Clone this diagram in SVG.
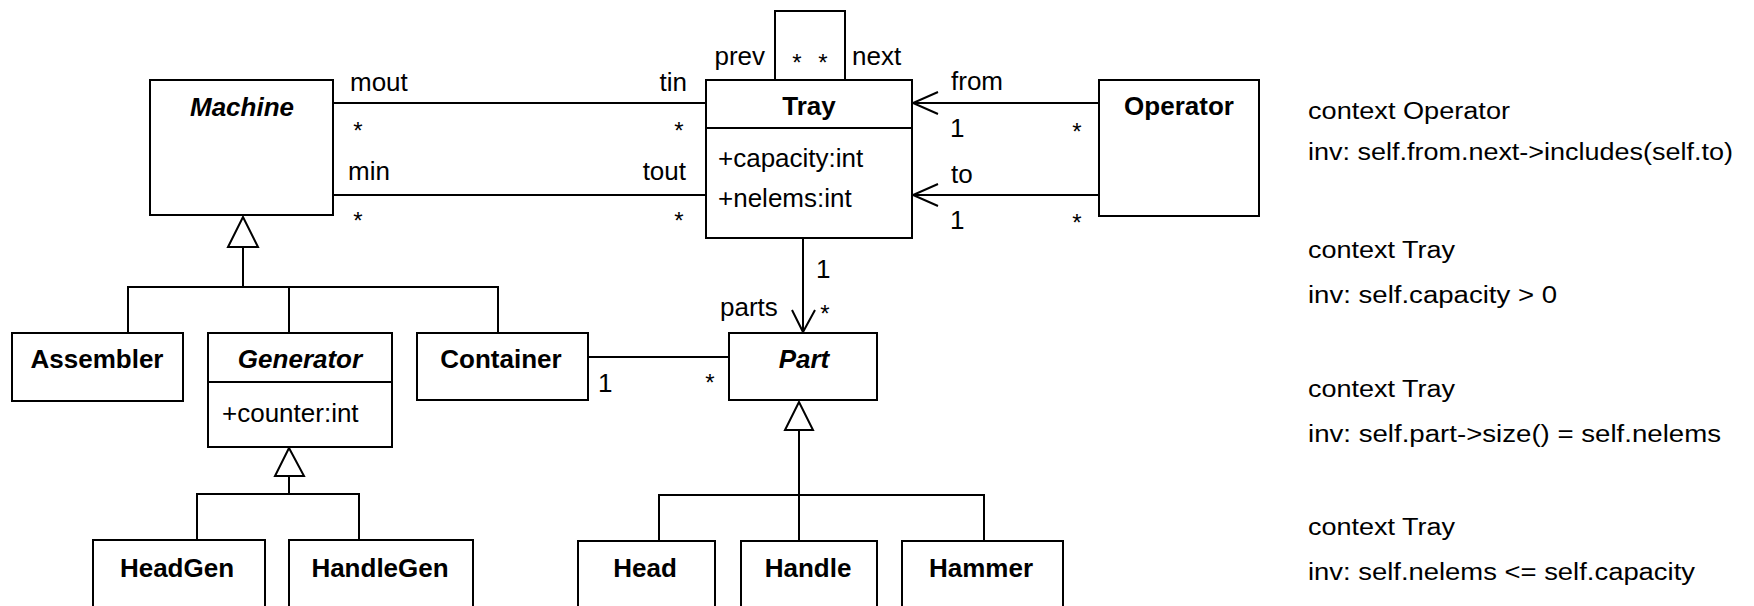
<svg xmlns="http://www.w3.org/2000/svg" width="1754" height="606" viewBox="0 0 1754 606">
<style>
.box{fill:#fff;stroke:#000;stroke-width:2}
.ln{fill:none;stroke:#000;stroke-width:2}
.tri{fill:#fff;stroke:#000;stroke-width:2;stroke-linejoin:miter}
.cn{font-family:"Liberation Sans",Arial,sans-serif;font-size:26px;font-weight:bold;text-anchor:middle;fill:#000}
.ab{font-style:italic}
.at{font-family:"Liberation Sans",Arial,sans-serif;font-size:26px;fill:#000}
.lb{font-family:"Liberation Sans",Arial,sans-serif;font-size:26px;fill:#000}
.st{font-family:"Liberation Sans",Arial,sans-serif;font-size:24px;fill:#000;text-anchor:middle}
.ocl{font-family:"Liberation Sans",Arial,sans-serif;font-size:23px;fill:#000}
</style>
<rect width="1754" height="606" fill="#fff"/>

<g id="connectors">
  <!-- Machine - Tray -->
  <line class="ln" x1="333" y1="103" x2="706" y2="103"/>
  <line class="ln" x1="333" y1="195" x2="706" y2="195"/>
  <!-- Tray self association -->
  <polyline class="ln" points="775,80 775,11 845,11 845,80"/>
  <!-- Operator - Tray -->
  <line class="ln" x1="1099" y1="103" x2="913" y2="103"/>
  <polyline class="ln" points="938,92 913,103 938,114"/>
  <line class="ln" x1="1099" y1="195" x2="913" y2="195"/>
  <polyline class="ln" points="938,184 913,195 938,206"/>
  <!-- Tray - Part -->
  <line class="ln" x1="803" y1="238" x2="803" y2="332"/>
  <polyline class="ln" points="792,310 803,332 815,310"/>
  <!-- Container - Part -->
  <line class="ln" x1="588" y1="357" x2="729" y2="357"/>
  <!-- Machine generalization -->
  <polygon class="tri" points="243,217 228,247 258,247"/>
  <polyline class="ln" points="243,247 243,287"/>
  <polyline class="ln" points="128,333 128,287 498,287 498,333"/>
  <line class="ln" x1="289" y1="287" x2="289" y2="333"/>
  <!-- Generator generalization -->
  <polygon class="tri" points="289,448 275,476 304,476"/>
  <line class="ln" x1="289" y1="476" x2="289" y2="494"/>
  <polyline class="ln" points="197,540 197,494 359,494 359,540"/>
  <!-- Part generalization -->
  <polygon class="tri" points="799,402 785,430 813,430"/>
  <line class="ln" x1="799" y1="430" x2="799" y2="541"/>
  <polyline class="ln" points="659,541 659,495 984,495 984,541"/>

  <!-- role names and multiplicities -->
  <text class="lb" x="350" y="91">mout</text>
  <text class="lb" x="687" y="91" text-anchor="end">tin</text>
  <text class="st" x="358" y="139">*</text>
  <text class="st" x="679" y="139">*</text>
  <text class="lb" x="348" y="180">min</text>
  <text class="lb" x="686" y="180" text-anchor="end">tout</text>
  <text class="st" x="358" y="229">*</text>
  <text class="st" x="679" y="229">*</text>
  <text class="lb" x="765" y="65" text-anchor="end">prev</text>
  <text class="st" x="797" y="71">*</text>
  <text class="st" x="823" y="71">*</text>
  <text class="lb" x="852" y="65">next</text>
  <text class="lb" x="951" y="90">from</text>
  <text class="lb" x="950" y="137">1</text>
  <text class="st" x="1077" y="140">*</text>
  <text class="lb" x="951" y="183">to</text>
  <text class="lb" x="950" y="229">1</text>
  <text class="st" x="1077" y="231">*</text>
  <text class="lb" x="816" y="278">1</text>
  <text class="lb" x="720" y="316">parts</text>
  <text class="st" x="825" y="322">*</text>
  <text class="lb" x="598" y="392">1</text>
  <text class="st" x="710" y="391">*</text>
</g>

<g id="Machine">
  <rect class="box" x="150" y="80" width="183" height="135"/>
  <text class="cn ab" x="242" y="116">Machine</text>
</g>
<g id="Tray">
  <rect class="box" x="706" y="80" width="206" height="158"/>
  <line class="ln" x1="706" y1="128" x2="912" y2="128"/>
  <text class="cn" x="809" y="115">Tray</text>
  <text class="at" x="718" y="167">+capacity:int</text>
  <text class="at" x="718" y="207">+nelems:int</text>
</g>
<g id="Operator">
  <rect class="box" x="1099" y="80" width="160" height="136"/>
  <text class="cn" x="1179" y="115">Operator</text>
</g>
<g id="Assembler">
  <rect class="box" x="12" y="333" width="171" height="68"/>
  <text class="cn" x="97" y="368">Assembler</text>
</g>
<g id="Generator">
  <rect class="box" x="208" y="333" width="184" height="114"/>
  <line class="ln" x1="208" y1="382" x2="392" y2="382"/>
  <text class="cn ab" x="300" y="368" font-weight="normal">Generator</text>
  <text class="at" x="222" y="422">+counter:int</text>
</g>
<g id="Container">
  <rect class="box" x="417" y="333" width="171" height="67"/>
  <text class="cn" x="501" y="368">Container</text>
</g>
<g id="Part">
  <rect class="box" x="729" y="333" width="148" height="67"/>
  <text class="cn ab" x="804" y="368">Part</text>
</g>
<g id="HeadGen">
  <rect class="box" x="93" y="540" width="172" height="80"/>
  <text class="cn" x="177" y="577">HeadGen</text>
</g>
<g id="HandleGen">
  <rect class="box" x="289" y="540" width="184" height="80"/>
  <text class="cn" x="380" y="577">HandleGen</text>
</g>
<g id="Head">
  <rect class="box" x="578" y="541" width="137" height="80"/>
  <text class="cn" x="645" y="577">Head</text>
</g>
<g id="Handle">
  <rect class="box" x="741" y="541" width="136" height="80"/>
  <text class="cn" x="808" y="577">Handle</text>
</g>
<g id="Hammer">
  <rect class="box" x="902" y="541" width="161" height="80"/>
  <text class="cn" x="981" y="577">Hammer</text>
</g>

<g id="constraints">
  <text class="ocl" x="1308" y="119" textLength="202" lengthAdjust="spacingAndGlyphs">context Operator</text>
  <text class="ocl" x="1308" y="160" textLength="425" lengthAdjust="spacingAndGlyphs">inv: self.from.next-&gt;includes(self.to)</text>
  <text class="ocl" x="1308" y="258" textLength="147" lengthAdjust="spacingAndGlyphs">context Tray</text>
  <text class="ocl" x="1308" y="303" textLength="249" lengthAdjust="spacingAndGlyphs">inv: self.capacity &gt; 0</text>
  <text class="ocl" x="1308" y="397" textLength="147" lengthAdjust="spacingAndGlyphs">context Tray</text>
  <text class="ocl" x="1308" y="442" textLength="413" lengthAdjust="spacingAndGlyphs">inv: self.part-&gt;size() = self.nelems</text>
  <text class="ocl" x="1308" y="535" textLength="147" lengthAdjust="spacingAndGlyphs">context Tray</text>
  <text class="ocl" x="1308" y="580" textLength="387" lengthAdjust="spacingAndGlyphs">inv: self.nelems &lt;= self.capacity</text>
</g>
</svg>
